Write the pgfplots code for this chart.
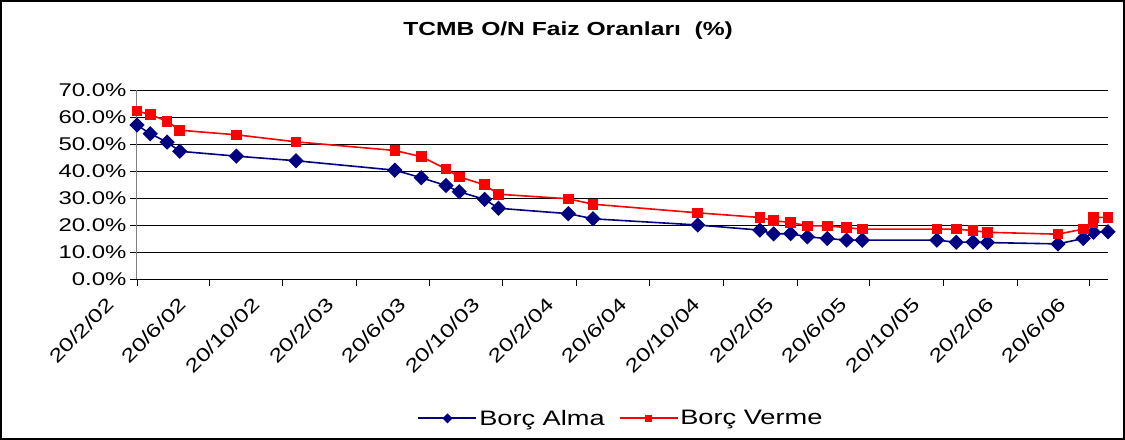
\documentclass[border=0pt]{standalone}
\usepackage{fontspec}
\setmainfont[FakeStretch=1.3]{Liberation Sans}
\usepackage{pgfplots}
\usepackage{pgfplotstable}
\pgfplotsset{compat=1.18}
\definecolor{navyb}{RGB}{0,0,128}
\definecolor{redv}{RGB}{255,0,0}

\pgfplotstableread{
day val
0 57
22 53.8
50 50.7
71 47.3
165 45.5
264 43.8
428 40.3
472 37.5
513 34.6
535 32.3
577 29.5
600 26.2
716 24.2
757 22.3
931 20.0
1034 18.1
1057 16.7
1085 16.8
1113 15.6
1146 15.0
1178 14.4
1204 14.4
1328 14.4
1360 13.6
1388 13.7
1412 13.5
1529 13.0
1571 15.0
1588 17.3
1612 17.5
}\alma

\pgfplotstableread{
day val
0 62.2
22 60.9
50 58.4
71 55.1
165 53.4
264 50.8
428 47.6
472 45.3
513 40.8
535 37.8
577 34.9
600 31.4
716 29.7
757 27.7
931 24.5
1034 22.8
1057 21.6
1085 20.9
1113 19.7
1146 19.7
1178 19.0
1204 18.5
1328 18.5
1360 18.5
1388 17.9
1412 17.3
1529 16.6
1571 18.5
1587 21.0
1588 22.8
1612 22.8
}\verme

\begin{document}
\begin{tikzpicture}
\path[use as bounding box] (-137bp,-161bp) rectangle (988bp,279bp);
\begin{axis}[
  at={(0bp,0bp)}, anchor=south west,
  width=971bp, height=189bp, scale only axis,
  xmin=0, xmax=1612, ymin=0, ymax=70,
  xtick={0,120,242,365,485,607,730,851,973,1096,1216,1338,1461,1581},
  xticklabels={20/2/02,20/6/02,20/10/02,20/2/03,20/6/03,20/10/03,20/2/04,20/6/04,20/10/04,20/2/05,20/6/05,20/10/05,20/2/06,20/6/06},
  ytick={0,10,...,70},
  yticklabel={\pgfmathprintnumber[fixed,fixed zerofill,precision=1]{\tick}\%},
  /pgf/number format/assume math mode=true,
  ymajorgrids, grid style={black, line width=0.8bp},
  axis x line*=bottom, axis y line*=left,
  x axis line style={-, black, line width=1bp},
  y axis line style={-, gray, line width=1bp},
  tick align=outside, major tick length=7bp,
  tick style={black, line width=0.8bp},
  xticklabel style={font=\fontsize{19}{19}\selectfont, xshift=-24bp, yshift=-13bp, rotate=45, anchor=east},
  yticklabel style={font=\fontsize{18.5}{18.5}\selectfont},
  clip=false,
  title={\bfseries TCMB O/N Faiz Oranları\ \ (\%)},
  title style={font=\fontsize{19}{19}\selectfont, at={(0.444,1.281)}, anchor=center},
  legend style={at={(0.4985,-0.737)}, anchor=center, draw=none, fill=none,
    legend columns=2, font=\fontsize{21}{21}\selectfont,
    /tikz/every even column/.append style={column sep=12bp}},
  legend image code/.code={\draw[mark repeat=2,mark phase=2,#1,every mark/.append style={scale=0.6}] plot coordinates {(0bp,0bp) (29bp,0bp) (58bp,0bp)};},
]
\addplot[color=navyb, line width=1.6bp, mark=square*, mark size=4.6bp, mark options={rotate=45, fill=navyb, draw=navyb}] table[x=day,y=val] {\alma};
\addlegendentry{Borç Alma}
\addplot[color=redv, line width=1.6bp, mark=square*, mark size=4.5bp, mark options={fill=redv, draw=redv}] table[x=day,y=val] {\verme};
\addlegendentry{Borç Verme}
\end{axis}
\draw[line width=1.5bp] (-136bp,-160bp) rectangle (987bp,278bp);
\end{tikzpicture}
\end{document}
